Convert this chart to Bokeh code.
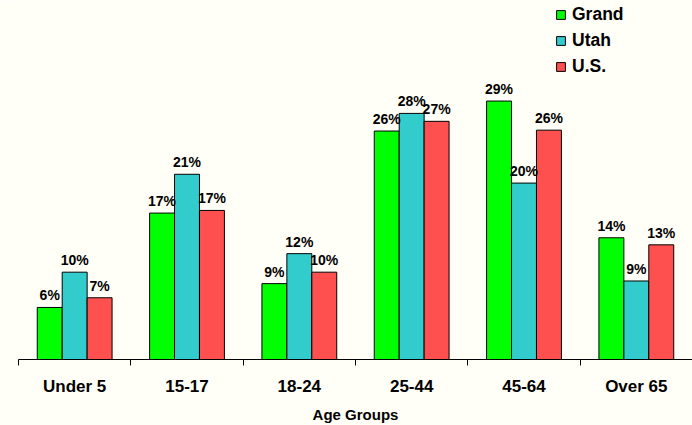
from bokeh.plotting import figure
from bokeh.models import ColumnDataSource, Range1d, FixedTicker, Legend, LegendItem, LabelSet
from bokeh.core.properties import value
from bokeh.embed import file_html
from bokeh.resources import INLINE

categories = ["Under 5", "15-17", "18-24", "25-44", "45-64", "Over 65"]
series_names = ["Grand", "Utah", "U.S."]
grand = [5.9, 16.6, 8.6, 25.9, 29.3, 13.8]
utah = [9.9, 21.0, 12.0, 27.9, 20.0, 8.9]
us = [7.0, 16.9, 9.9, 27.0, 26.0, 13.0]
colors = ["#00FF00", "#33CCCC", "#FF5050"]

BG = "#FFFFF7"
p = figure(width=692, height=425, output_backend="svg", toolbar_location=None,
           x_range=Range1d(0, 6), y_range=Range1d(0, 40.7),
           min_border_left=18, min_border_right=0, min_border_top=0, min_border_bottom=65,
           background_fill_color=BG, border_fill_color=BG, outline_line_color=None)
p.grid.visible = False
p.yaxis.visible = False

centers = [i + 0.5 for i in range(len(categories))]
bw = 0.222
offsets = [-bw, 0.0, bw]
items = []
for vals, name, col, off in zip([grand, utah, us], series_names, colors, offsets):
    xs = [c + off for c in centers]
    src = ColumnDataSource(dict(x=xs, top=vals, lab=[f"{int(v + 0.5)}%" for v in vals]))
    r = p.vbar(x="x", top="top", width=bw, bottom=0, source=src, fill_color=col,
               line_color="black", line_width=1)
    items.append(LegendItem(label=name, renderers=[r]))
    p.add_layout(LabelSet(x="x", y="top", text="lab", source=src, text_align="center",
                          text_baseline="bottom", y_offset=4, text_font=value("Liberation Sans"),
                          text_font_style="bold", text_font_size="14px", text_color="black"))

ax = p.xaxis[0]
ax.ticker = FixedTicker(ticks=centers, minor_ticks=list(range(7)))
ax.major_label_overrides = {c: lab for c, lab in zip(centers, categories)}
ax.major_tick_out = 0
ax.major_tick_in = 0
ax.minor_tick_out = 6
ax.minor_tick_in = 0
ax.minor_tick_line_color = "black"
ax.axis_line_color = "black"
ax.major_label_text_font = "Liberation Sans"
ax.major_label_text_font_style = "bold"
ax.major_label_text_font_size = "17px"
ax.major_label_text_color = "black"
ax.major_label_standoff = 11
ax.axis_label = "Age Groups"
ax.axis_label_text_font = "Liberation Sans"
ax.axis_label_text_font_style = "bold"
ax.axis_label_text_font_size = "15px"
ax.axis_label_text_color = "black"
ax.axis_label_standoff = 7

legend = Legend(items=items, location=(537, 282), background_fill_alpha=0, border_line_color=None,
                padding=0, margin=0, spacing=5, glyph_width=11, glyph_height=11,
                label_height=20, label_standoff=6,
                label_text_font="Liberation Sans", label_text_font_style="bold",
                label_text_font_size="17.5px", label_text_color="black")
p.add_layout(legend)

open("out.html", "w").write(file_html(p, INLINE))
